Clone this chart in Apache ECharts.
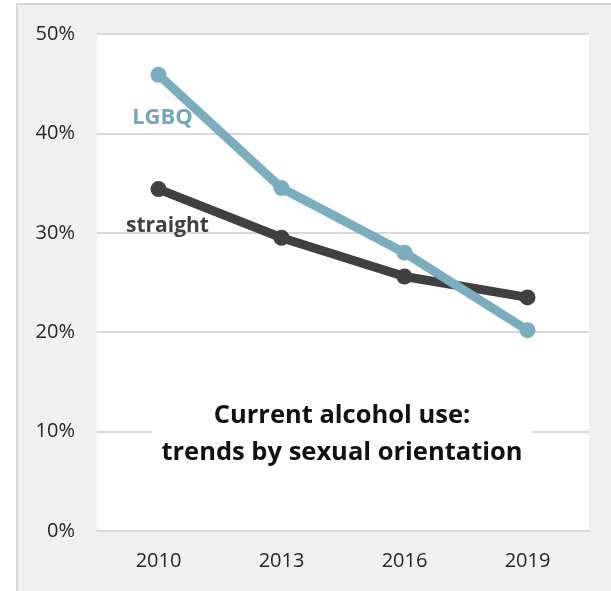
<!DOCTYPE html>
<html>
<head>
<meta charset="utf-8">
<script src="https://cdn.jsdelivr.net/npm/echarts@6/dist/echarts.min.js"></script>
<style>
  html, body { margin: 0; padding: 0; background: #ffffff; }
  #frame { position: absolute; left: 16px; top: 3px; width: 595px; height: 588px;
           background: #F0F0F0; border-left: 2px solid #D9D9D9; border-top: 2px solid #D9D9D9; }
  #chart { position: absolute; left: 0; top: 0; width: 611px; height: 591px; }
</style>
</head>
<body>
<div id="frame"></div>
<div id="chart"></div>
<script>
const years = ['2010', '2013', '2016', '2019'];
const lgbq = [45.9, 34.5, 28.0, 20.2];
const straight = [34.4, 29.5, 25.6, 23.5];
const yTicks = { min: 0, max: 50, interval: 10 };
const titleLines = ['Current alcohol use:', 'trends by sexual orientation'];

const FONT = '"Open Sans", "Liberation Sans", sans-serif';
const chart = echarts.init(document.getElementById('chart'), null, { renderer: 'canvas' });

function labelFirst(data, name, color, offset, size) {
  return data.map((v, i) => i === 0 ? {
    value: v,
    label: {
      show: true, formatter: name, position: 'inside', offset: offset,
      color: color, fontFamily: FONT, fontWeight: 'bold', fontSize: size,
      align: 'center', verticalAlign: 'middle'
    }
  } : v);
}

chart.setOption({
  backgroundColor: 'transparent',
  animation: false,
  title: {
    text: titleLines.join('\n'),
    left: 333, top: 395, textAlign: 'center',
    backgroundColor: '#ffffff',
    padding: [2, 9, 2, 9],
    textStyle: { fontFamily: FONT, fontWeight: 'bold', fontSize: 25.5, color: '#111111', lineHeight: 37 }
  },
  grid: { left: 97, right: 22, top: 34, bottom: 60, show: true, backgroundColor: '#ffffff', borderWidth: 0 },
  xAxis: {
    type: 'category', data: years, boundaryGap: true,
    axisLine: { show: true, lineStyle: { color: '#D9D9D9', width: 2 } },
    axisTick: { show: false },
    axisLabel: { margin: 20, fontFamily: FONT, fontSize: 20, color: '#262626' }
  },
  yAxis: {
    type: 'value', min: yTicks.min, max: yTicks.max, interval: yTicks.interval,
    axisLine: { show: false }, axisTick: { show: false },
    splitLine: { lineStyle: { color: '#D9D9D9', width: 2 } },
    axisLabel: { margin: 22, formatter: '{value}%', fontFamily: FONT, fontSize: 20, color: '#262626' }
  },
  series: [
    {
      name: 'straight', type: 'line', data: labelFirst(straight, 'straight', '#404040', [9, 37], 21),
      symbol: 'circle', symbolSize: 16,
      lineStyle: { color: '#404040', width: 9 },
      itemStyle: { color: '#404040' }
    },
    {
      name: 'LGBQ', type: 'line', data: labelFirst(lgbq, 'LGBQ', '#72A6BA', [4, 43], 22),
      symbol: 'circle', symbolSize: 16,
      lineStyle: { color: '#7BADC0', width: 9 },
      itemStyle: { color: '#7BADC0' }
    }
  ]
});
</script>
</body>
</html>
